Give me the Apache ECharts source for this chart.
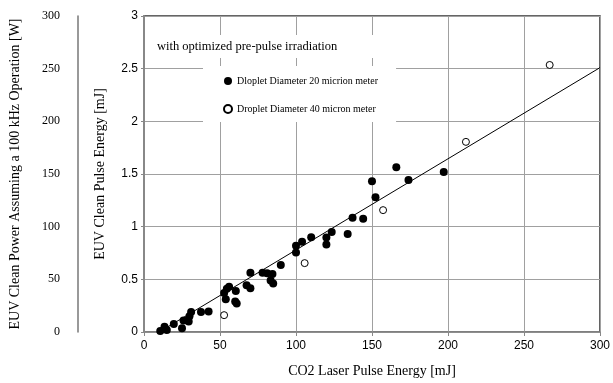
<!DOCTYPE html>
<html>
<head>
<meta charset="utf-8">
<script src="https://cdn.jsdelivr.net/npm/echarts@6/dist/echarts.min.js"></script>
<style>html,body{margin:0;padding:0;background:#fff}#c{width:613px;height:383px}</style>
</head>
<body>
<div id="c"></div>
<script>
// Droplet Diameter 20 micron (filled)
const d20x = [10.7, 13.5, 15, 19.6, 25, 26, 29.4, 29.9, 31, 37.5, 42.5, 52.7, 53.8, 54.5, 56, 60, 61, 60.4, 67.5, 70, 70, 78, 81, 84.5, 83.3, 85, 90, 100, 100, 104, 110, 120, 120, 123.5, 134, 137.2, 144.2, 150, 152.3, 166, 174, 197.2];
const d20y = [0.01, 0.05, 0.02, 0.075, 0.035, 0.11, 0.10, 0.15, 0.19, 0.19, 0.195, 0.37, 0.31, 0.41, 0.43, 0.29, 0.27, 0.39, 0.445, 0.415, 0.563, 0.563, 0.557, 0.55, 0.49, 0.46, 0.635, 0.82, 0.755, 0.856, 0.90, 0.896, 0.83, 0.95, 0.93, 1.085, 1.075, 1.43, 1.28, 1.563, 1.443, 1.52];
// Droplet Diameter 40 micron (open)
const d40x = [52.7, 105.7, 157.3, 211.8, 266.9];
const d40y = [0.16, 0.654, 1.157, 1.805, 2.535];
// fitted line end points
const fitX = [10, 300];
const fitY = [0, 2.51];
const xTicks = [0, 50, 100, 150, 200, 250, 300];
const yTicks = [0, 0.5, 1, 1.5, 2, 2.5, 3];
const wTicks = [0, 50, 100, 150, 200, 250, 300];

const zip = (a, b) => a.map((v, i) => [v, b[i]]);
const serif = '"Liberation Serif", "Times New Roman", serif';
const sans = '"Liberation Sans", Arial, sans-serif';

const chart = echarts.init(document.getElementById('c'), null, {renderer: 'canvas'});
chart.setOption({
  animation: false,
  backgroundColor: '#fff',
  title: {
    text: 'with optimized pre-pulse irradiation',
    left: 150, top: 35,
    padding: [5, 63, 5, 7],
    backgroundColor: '#fff',
    textStyle: {fontFamily: serif, fontSize: 12.5, fontWeight: 'normal', color: '#000'}
  },
  legend: {
    orient: 'vertical',
    left: 203, top: 66,
    padding: [10, 18, 8, 20],
    itemGap: 18,
    itemWidth: 8, itemHeight: 8,
    backgroundColor: '#fff',
    textStyle: {fontFamily: serif, fontSize: 10, color: '#000'},
    data: ['Dloplet Diameter 20 micrion meter', 'Droplet Diameter 40 micron meter']
  },
  grid: {left: 144, right: 10, top: 16, bottom: 49, show: true, borderColor: '#333', borderWidth: 1.5, containLabel: false},
  xAxis: {
    type: 'value', min: xTicks[0], max: xTicks[xTicks.length - 1], interval: 50,
    name: 'CO2 Laser Pulse Energy [mJ]', nameLocation: 'middle', nameGap: 32,
    nameTextStyle: {fontFamily: serif, fontSize: 14, color: '#000'},
    axisLine: {show: true, lineStyle: {color: '#888', width: 1.5}},
    axisTick: {show: true, length: 4, lineStyle: {color: '#888'}},
    axisLabel: {fontFamily: sans, fontSize: 12, color: '#000', margin: 8},
    splitLine: {show: true, lineStyle: {color: '#a0a0a0', width: 1}}
  },
  yAxis: [{
    type: 'value', min: yTicks[0], max: yTicks[yTicks.length - 1], interval: 0.5,
    name: 'EUV Clean Pulse Energy [mJ]', nameLocation: 'middle', nameGap: 37,
    nameTextStyle: {fontFamily: serif, fontSize: 14, color: '#000'},
    axisLine: {show: true, lineStyle: {color: '#888', width: 2}},
    axisTick: {show: true, length: 3, lineStyle: {color: '#888'}},
    axisLabel: {fontFamily: sans, fontSize: 12, color: '#000', margin: 6},
    splitLine: {show: true, lineStyle: {color: '#a0a0a0', width: 1}}
  }, {
    type: 'value', position: 'left', offset: 66,
    min: wTicks[0], max: wTicks[wTicks.length - 1], interval: 50,
    name: 'EUV Clean Power Assuming a 100 kHz Operation [W]', nameLocation: 'middle', nameGap: 56,
    nameTextStyle: {fontFamily: serif, fontSize: 14, color: '#000'},
    axisLine: {show: true, lineStyle: {color: '#777', width: 1.5}},
    axisTick: {show: false},
    axisLabel: {fontFamily: serif, fontSize: 12, color: '#000', margin: 18},
    splitLine: {show: false}
  }],
  series: [{
    name: 'Fit', type: 'line', data: zip(fitX, fitY), symbol: 'none',
    lineStyle: {color: '#000', width: 1}, silent: true, z: 1
  }, {
    name: 'Dloplet Diameter 20 micrion meter', type: 'scatter', data: zip(d20x, d20y),
    symbol: 'circle', symbolSize: 8, itemStyle: {color: '#000', opacity: 1}, z: 3
  }, {
    name: 'Droplet Diameter 40 micron meter', type: 'scatter', data: zip(d40x, d40y),
    symbol: 'circle', symbolSize: 7, itemStyle: {color: '#fff', borderColor: '#000', borderWidth: 1, opacity: 1}, z: 3
  }]
});
</script>
</body>
</html>
